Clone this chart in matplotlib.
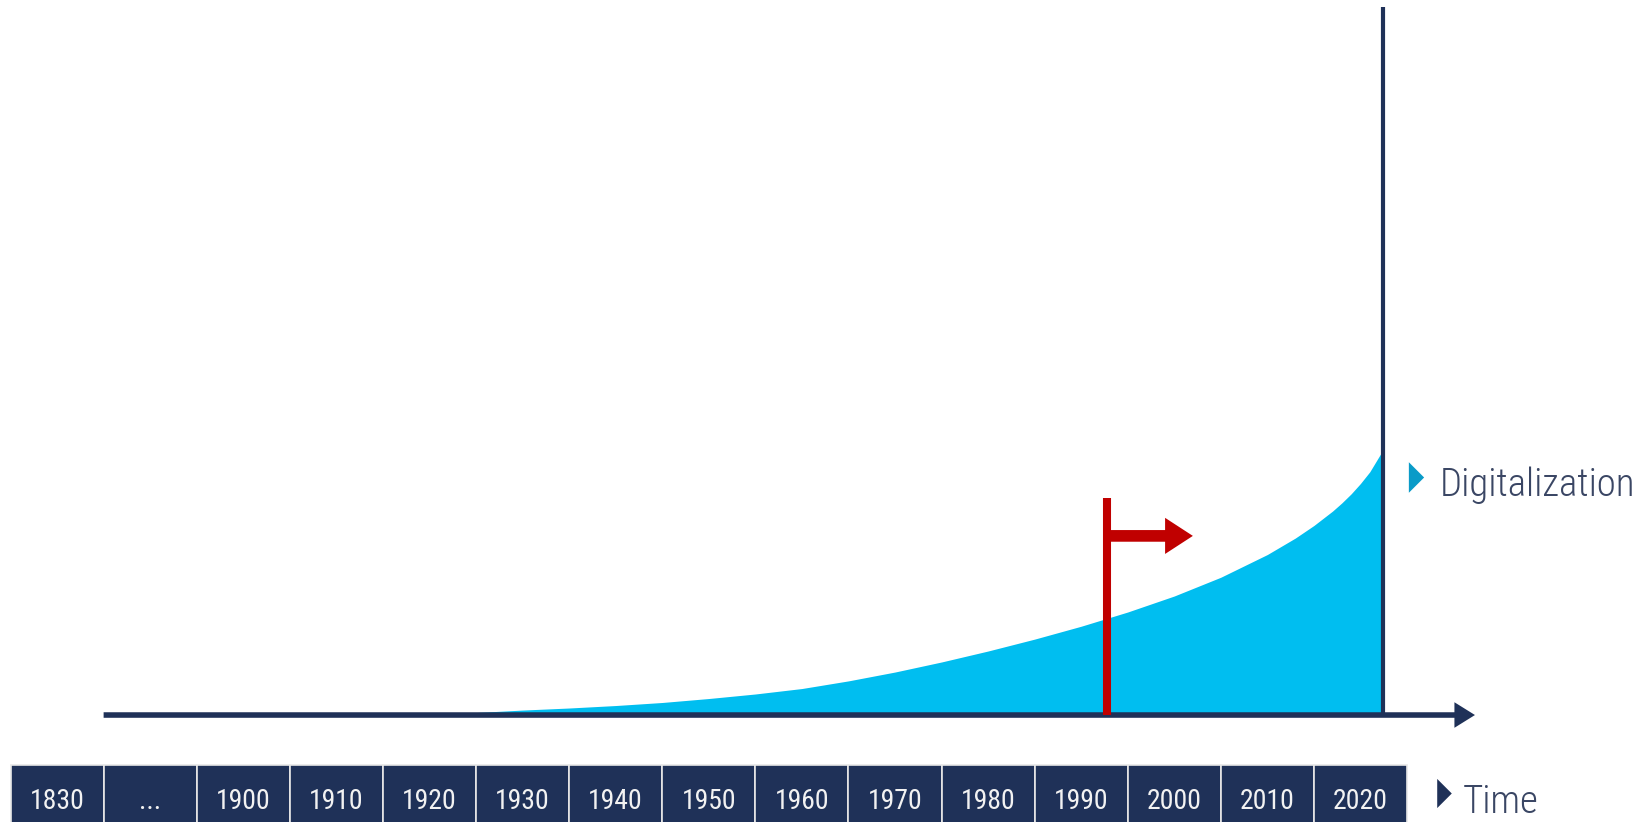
import numpy as np
import matplotlib
matplotlib.use("Agg")
import matplotlib.pyplot as plt

plt.rcParams['font.family'] = ['Roboto Condensed', 'DejaVu Sans Condensed', 'DejaVu Sans']
plt.rcParams['font.stretch'] = 'condensed'

# digitalization curve (share of the vertical axis, 0..100)
years = [1925, 1930, 1935, 1940, 1945, 1950, 1955, 1960, 1965, 1970,
         1975, 1980, 1985, 1990, 1995, 2000, 2005, 2010, 2015, 2018,
         2020, 2022, 2023, 2024, 2025, 2026, 2027.4]
level = [0, 0.35, 0.7, 0.99, 1.34, 1.77, 2.33, 2.97, 3.74, 4.82,
         6.07, 7.49, 9.04, 10.72, 12.54, 14.55, 16.81, 19.46, 22.67, 24.99,
         26.77, 28.8, 29.96, 31.24, 32.7, 34.35, 37.4]

# timeline boxes
box_labels = ['1830', '...', '1900', '1910', '1920', '1930', '1940', '1950',
              '1960', '1970', '1980', '1990', '2000', '2010', '2020']
box_start = 1880
box_width = 10

now_year = 2027.4       # the vertical "today" line
flag_year = 1997.8      # red flag marking the start of the digital era
flag_top = 30.6
flag_arrow_y = 25.3
flag_arrow_end = 2007.0

navy = '#1F3158'
cyan = '#00BEF0'
red = '#C00000'
label_color = '#3A4664'

fig = plt.figure(figsize=(16.39, 8.22), dpi=100)
ax = fig.add_axes([0, 0, 1, 1])
ax.set_xlim(1878.87, 2054.92)
ax.set_ylim(-15.11, 100.99)
ax.axis('off')

# area under the curve
ax.fill_between(years, 0, level, color=cyan, lw=0, zorder=1)

# time axis with arrow head
ax.annotate('', xy=(2037.3, 0), xytext=(1890, 0),
            arrowprops=dict(arrowstyle='-|>,head_length=0.45,head_width=0.28',
                            lw=4, color=navy, mutation_scale=20,
                            capstyle='butt', joinstyle='miter',
                            shrinkA=0, shrinkB=0), zorder=3)

# vertical line at present day
ax.plot([now_year, now_year], [0, 100], color=navy, lw=3, solid_capstyle='butt', zorder=3)

# red flag
ax.plot([flag_year, flag_year], [0, flag_top], color=red, lw=5.8,
        solid_capstyle='butt', zorder=4)
ax.annotate('', xy=(flag_arrow_end, flag_arrow_y), xytext=(flag_year, flag_arrow_y),
            arrowprops=dict(arrowstyle='simple,head_length=1.0,head_width=1.3,tail_width=0.42',
                            mutation_scale=20, color=red, lw=0,
                            shrinkA=0, shrinkB=0), zorder=4)

# timeline boxes
lefts = [box_start + i * box_width for i in range(len(box_labels))]
ax.bar(lefts, 9.5, width=box_width, bottom=-16.5, align='edge',
       color=navy, edgecolor='#E8E8E8', linewidth=1.2, zorder=2)
for left, lab in zip(lefts, box_labels):
    ax.text(left + box_width / 2, -13.28, lab, ha='center', va='baseline',
            fontsize=20, color='#F2F2F2', zorder=5)

# axis labels with small triangles
tri = [(-0.5, -1), (0.5, 0), (-0.5, 1)]
ax.plot([2031.0], [33.6], marker=tri, ms=22, color='#0A9BC8', mew=0, zorder=5)
ax.text(2033.5, 30.93, 'Digitalization', ha='left', va='baseline',
        fontsize=28, fontweight='light', color=label_color)

ax.plot([2034.0], [-11.0], marker=tri, ms=21, color=navy, mew=0, zorder=5)
ax.text(2036.0, -13.84, 'Time', ha='left', va='baseline',
        fontsize=28, fontweight='light', color=label_color)

fig.savefig('out.png', dpi=100)
